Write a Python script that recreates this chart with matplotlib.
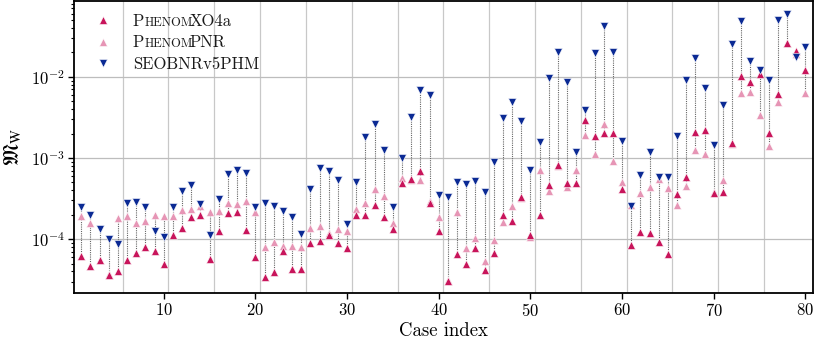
import numpy as np
import matplotlib
matplotlib.use("Agg")
import matplotlib.pyplot as plt
from matplotlib.ticker import LogLocator, NullFormatter, FixedLocator

plt.rcParams.update({
    "font.family": "serif",
    "font.serif": ["cmr10"],
    "mathtext.fontset": "cm",
    "axes.formatter.use_mathtext": True,
    "axes.unicode_minus": True,
})

# ---------------- data ----------------
cases = list(range(1, 81))

phenom_xo4a = [
    6.2e-5, 4.7e-5, 5.5e-5, 3.6e-5, 4.0e-5, 5.6e-5, 6.7e-5, 7.9e-5, 7.1e-5, 5.0e-5,
    1.12e-4, 1.38e-4, 1.85e-4, 1.98e-4, 5.7e-5, 1.26e-4, 2.11e-4, 2.15e-4, 1.29e-4, 6.05e-5,
    3.37e-5, 3.96e-5, 7.2e-5, 4.3e-5, 4.3e-5, 8.85e-5, 9.5e-5, 1.14e-4, 9.0e-5, 7.8e-5,
    1.96e-4, 1.96e-4, 2.67e-4, 1.88e-4, 1.32e-4, 4.94e-4, 5.48e-4, 6.95e-4, 2.8e-4, 1.26e-4,
    3.07e-5, 6.53e-5, 4.88e-5, 7.67e-5, 4.15e-5, 6.66e-5, 1.96e-4, 1.67e-4, 3.26e-4, 1.11e-4,
    1.98e-4, 4.63e-4, 8.16e-4, 4.85e-4, 4.94e-4, 2.9e-3, 1.89e-3, 2.06e-3, 2.02e-3, 4.09e-4,
    8.43e-5, 1.21e-4, 1.2e-4, 9.1e-5, 6.53e-5, 3.58e-4, 5.86e-4, 2.1e-3, 2.2e-3, 3.65e-4,
    3.76e-4, 1.54e-3, 1.01e-2, 8.6e-3, 1.09e-2, 2.06e-3, 6.06e-3, 2.58e-2, 2.07e-2, 1.2e-2,
]

phenom_pnr = [
    1.92e-4, 1.59e-4, 5.6e-5, 3.7e-5, 1.8e-4, 1.92e-4, 1.59e-4, 1.68e-4, 2.0e-4, 1.92e-4,
    1.92e-4, 2.28e-4, 2.32e-4, 2.57e-4, 2.15e-4, 2.21e-4, 2.8e-4, 2.7e-4, 2.97e-4, 2.15e-4,
    8.05e-5, 9.27e-5, 8.2e-5, 8.2e-5, 8.0e-5, 1.38e-4, 1.45e-4, 1.2e-4, 1.33e-4, 1.26e-4,
    2.36e-4, 2.8e-4, 4.09e-4, 3.42e-4, 1.59e-4, 5.59e-4, 5.3e-4, 5.43e-4, 2.95e-4, 1.85e-4,
    3.1e-5, 2.17e-4, 7.82e-5, 1.03e-4, 5.36e-5, 9.7e-5, 1.64e-4, 2.53e-4, 3.2e-4, 1.07e-4,
    7.08e-4, 3.94e-4, 8.0e-4, 4.33e-4, 7.21e-4, 1.93e-3, 1.11e-3, 2.59e-3, 9.06e-4, 5.09e-4,
    2.65e-4, 3.65e-4, 4.33e-4, 5.48e-4, 4.25e-4, 2.65e-4, 4.46e-4, 1.26e-3, 1.12e-3, 3.8e-4,
    5.43e-4, 1.5e-3, 6.35e-3, 6.47e-3, 3.43e-3, 1.39e-3, 4.92e-3, 2.6e-2, 1.9e-2, 6.35e-3,
]

seobnr_v5phm = [
    2.46e-4, 1.98e-4, 1.32e-4, 1.01e-4, 8.7e-5, 2.75e-4, 2.88e-4, 2.46e-4, 1.26e-4, 1.05e-4,
    2.48e-4, 3.94e-4, 4.62e-4, 2.72e-4, 1.14e-4, 3.11e-4, 6.3e-4, 7.1e-4, 6.44e-4, 2.5e-4,
    2.75e-4, 2.55e-4, 2.23e-4, 1.87e-4, 1.17e-4, 4.09e-4, 7.43e-4, 6.9e-4, 5.43e-4, 1.53e-4,
    5.0e-4, 1.82e-3, 2.66e-3, 1.27e-3, 2.5e-4, 1.01e-3, 3.21e-3, 6.85e-3, 5.94e-3, 3.48e-4,
    3.26e-4, 5.09e-4, 4.72e-4, 5.23e-4, 3.83e-4, 8.97e-4, 3.13e-3, 4.88e-3, 2.87e-3, 7.08e-4,
    1.58e-3, 9.63e-3, 2.03e-2, 8.6e-3, 1.19e-3, 3.88e-3, 1.94e-2, 4.25e-2, 2.05e-2, 1.6e-3,
    2.55e-4, 6.15e-4, 1.17e-3, 5.75e-4, 5.86e-4, 1.89e-3, 9.27e-3, 1.71e-2, 7.32e-3, 1.45e-3,
    4.52e-3, 2.55e-2, 4.85e-2, 1.55e-2, 1.2e-2, 9.27e-3, 4.99e-2, 6.03e-2, 1.76e-2, 2.34e-2,
]

xticks = [10, 20, 30, 40, 50, 60, 70, 80]
group_separators = [5.5, 10.5, 15.5, 20.5, 25.5, 30.5, 35.5, 40.5, 45.5, 50.5,
                    55.5, 60.5, 65.5, 70.5, 75.5]

# ---------------- style ----------------
c_xo4a = "#c8155b"
c_pnr = "#e695b5"
c_seob = "#0b2a94"

fig = plt.figure(figsize=(8.14, 3.47), dpi=100)
ax = fig.add_axes([74 / 814, 1 - 293.3 / 347, 738.7 / 814, 292.3 / 347])

x = np.array(cases)
a = np.array(phenom_xo4a)
b = np.array(phenom_pnr)
c = np.array(seobnr_v5phm)
lo = np.minimum(np.minimum(a, b), c)
hi = np.maximum(np.maximum(a, b), c)

for xs in group_separators:
    ax.axvline(xs, color="#c8c8c8", lw=0.9, zorder=0)
for yv in [1e-4, 1e-3, 1e-2]:
    ax.axhline(yv, color="#bdbdbd", lw=0.9, zorder=0)

ax.vlines(x, lo, hi, colors="#666666", linestyles=(0, (1, 1)), lw=0.8, zorder=1)

ms = 5.4
ax.plot(x, b, ls="", marker="^", ms=ms, color=c_pnr, mec="white", mew=0.4, zorder=2)
ax.plot(x, a, ls="", marker="^", ms=ms, color=c_xo4a, mec="white", mew=0.4, zorder=3)
ax.plot(x, c, ls="", marker="v", ms=ms, color=c_seob, mec="white", mew=0.4, zorder=4)

ax.set_yscale("log")
ax.set_xlim(0.2, 80.8)
ax.set_ylim(2.15e-5, 8.6e-2)
ax.xaxis.set_major_locator(FixedLocator(xticks))
ax.yaxis.set_major_locator(LogLocator(base=10, numticks=10))
ax.yaxis.set_minor_locator(LogLocator(base=10, subs=np.arange(2, 10), numticks=20))
ax.yaxis.set_minor_formatter(NullFormatter())

ax.tick_params(axis="both", which="major", direction="out", length=4.5, width=1.0,
               labelsize=12, pad=2)
ax.tick_params(axis="y", which="minor", direction="out", length=2.5, width=0.8)
for s in ax.spines.values():
    s.set_linewidth(1.3)

ax.set_xlabel("Case index", fontsize=13.5, labelpad=2)
yl = ax.set_ylabel(r"$\mathfrak{M}_{\rm W}$", fontsize=15, labelpad=5)
yl.set_math_fontfamily("stix")

# ---------------- legend (small caps imitation) ----------------
big = 12
small = 9
rows = [
    (c_xo4a, "^", [("P", big), ("HENOM", small), ("XO4a", big)]),
    (c_pnr, "^", [("P", big), ("HENOM", small), ("PNR", big)]),
    (c_seob, "v", [("SEOBNRv5PHM", big)]),
]
ax_w, ax_h = 738.7, 292.3
row_y_px = [20, 41.7, 63.3]
renderer = fig.canvas.get_renderer()
for (col, mk, pieces), ypx in zip(rows, row_y_px):
    ya = (293.3 - ypx) / ax_h
    ax.plot([(103 - 74) / ax_w], [ya], transform=ax.transAxes, ls="", marker=mk,
            ms=6.2, color=col, mec="white", mew=0.4, clip_on=False, zorder=5)
    xpos = (132.7 - 74) / ax_w
    ybase = ya - 5.5 / ax_h
    for t, s in pieces:
        txt = ax.text(xpos, ybase, t, transform=ax.transAxes, fontsize=s,
                      ha="left", va="baseline", color="#1a1a1a", zorder=5)
        ext = txt.get_window_extent(renderer=renderer)
        adj = -3.0 if s == small else 0.3
        xpos += (ext.width + adj) / ax_w

fig.savefig("out.png", dpi=100)
